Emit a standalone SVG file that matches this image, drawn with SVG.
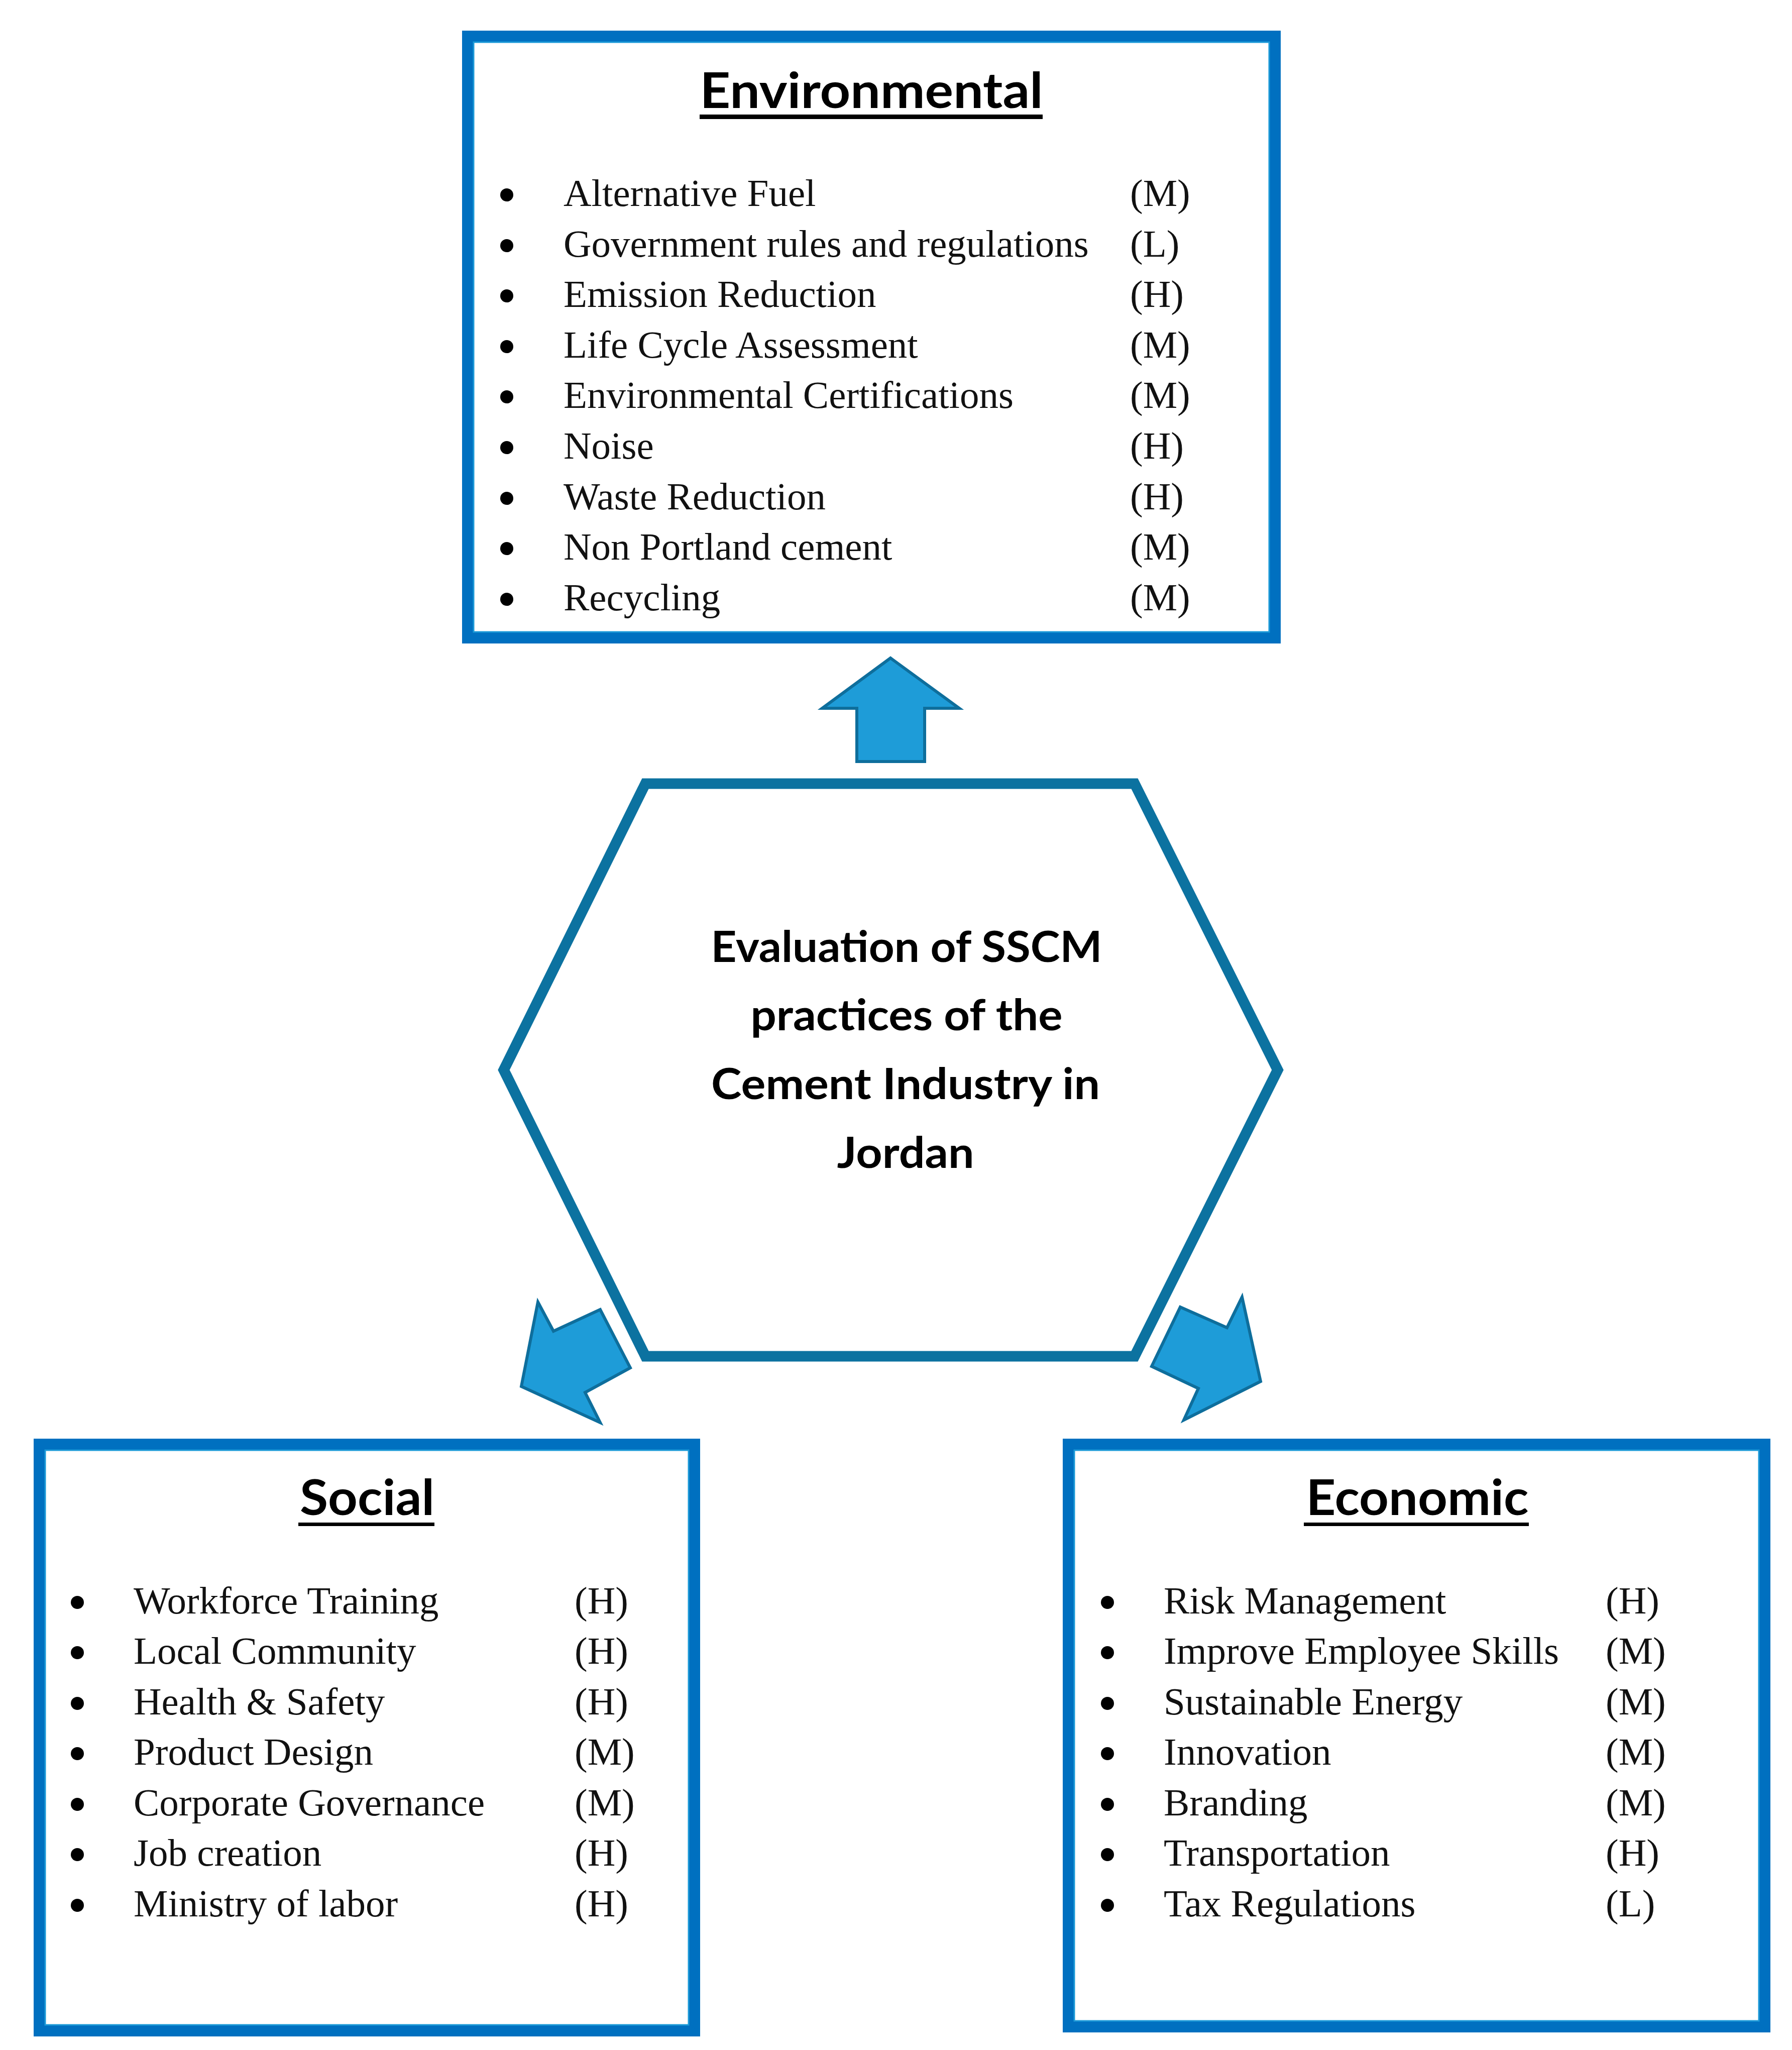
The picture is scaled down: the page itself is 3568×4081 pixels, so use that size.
<svg xmlns="http://www.w3.org/2000/svg" width="3568" height="4081" viewBox="0 0 3568 4081">
<style>
.box{fill:none;stroke:#0070C0;stroke-width:22}
.boxin{fill:none;stroke:#1C9AD8;stroke-width:3}
.hex{fill:#fff;stroke:#0C72A0;stroke-width:21;stroke-linejoin:miter}
.arrow{fill:#1E9CD8;stroke:#0E6E9C;stroke-width:6;stroke-linejoin:miter}
.title{font-family:Lato,"Open Sans","Liberation Sans",sans-serif;font-weight:bold;font-size:98px;fill:#000;text-anchor:middle}
.hub{font-family:Lato,"Open Sans","Liberation Sans",sans-serif;font-weight:bold;font-size:87px;fill:#000;text-anchor:middle}
.item{font-family:"Liberation Serif","Times New Roman",serif;font-size:77px;fill:#111}
.bul{fill:#000}
.ul{fill:#000}
</style>
<rect width="3568" height="4081" fill="#fff"/>

<g id="connectors">
  <polygon class="arrow" points="1773,1310 1910,1410 1841,1410 1841,1516 1706,1516 1706,1410 1637,1410"/>
  <polygon class="arrow" points="1071,2592 1102,2650 1195,2607 1255,2723 1165,2772 1195,2832 1038,2760"/>
  <polygon class="arrow" points="2350,2602 2443,2643 2473,2582 2510,2750 2357,2827 2386,2764 2293,2720"/>
</g>

<g id="hub">
  <polygon class="hex" points="1285,1560 2259,1560 2544,2130 2259,2700 1285,2700 1003,2130"/>
  <text class="hub" x="1805" y="1915" textLength="779" lengthAdjust="spacingAndGlyphs">Evaluation of SSCM</text>
  <text class="hub" x="1805" y="2051" textLength="621" lengthAdjust="spacingAndGlyphs">practices of the</text>
  <text class="hub" x="1803" y="2188" textLength="774" lengthAdjust="spacingAndGlyphs">Cement Industry in</text>
  <text class="hub" x="1803" y="2325" textLength="273" lengthAdjust="spacingAndGlyphs">Jordan</text>
</g>

<g id="environmental">
  <rect class="box" x="931" y="72" width="1608" height="1198"/>
  <rect class="boxin" x="943" y="84" width="1584" height="1174"/>
  <text class="title" x="1735" y="215" textLength="683" lengthAdjust="spacingAndGlyphs">Environmental</text>
  <rect class="ul" x="1393" y="228" width="683" height="9"/>
  <g class="bul">
    <circle cx="1009" cy="388" r="13"/>
    <circle cx="1009" cy="489" r="13"/>
    <circle cx="1009" cy="589" r="13"/>
    <circle cx="1009" cy="690" r="13"/>
    <circle cx="1009" cy="790" r="13"/>
    <circle cx="1009" cy="891" r="13"/>
    <circle cx="1009" cy="992" r="13"/>
    <circle cx="1009" cy="1092" r="13"/>
    <circle cx="1009" cy="1193" r="13"/>
  </g>
  <g class="item">
    <text x="1122" y="410">Alternative Fuel</text>
    <text x="1122" y="511">Government rules and regulations</text>
    <text x="1122" y="611">Emission Reduction</text>
    <text x="1122" y="712">Life Cycle Assessment</text>
    <text x="1122" y="812">Environmental Certifications</text>
    <text x="1122" y="913">Noise</text>
    <text x="1122" y="1014">Waste Reduction</text>
    <text x="1122" y="1114">Non Portland cement</text>
    <text x="1122" y="1215">Recycling</text>
    <text x="2250" y="410">(M)</text>
    <text x="2250" y="511">(L)</text>
    <text x="2250" y="611">(H)</text>
    <text x="2250" y="712">(M)</text>
    <text x="2250" y="812">(M)</text>
    <text x="2250" y="913">(H)</text>
    <text x="2250" y="1014">(H)</text>
    <text x="2250" y="1114">(M)</text>
    <text x="2250" y="1215">(M)</text>
  </g>
</g>

<g id="social">
  <rect class="box" x="78" y="2875" width="1305" height="1168"/>
  <rect class="boxin" x="90" y="2887" width="1281" height="1144"/>
  <text class="title" x="731" y="3016" textLength="268" lengthAdjust="spacingAndGlyphs">Social</text>
  <rect class="ul" x="594" y="3031" width="271" height="7"/>
  <g class="bul">
    <circle cx="154" cy="3190" r="13"/>
    <circle cx="154" cy="3290" r="13"/>
    <circle cx="154" cy="3391" r="13"/>
    <circle cx="154" cy="3491" r="13"/>
    <circle cx="154" cy="3592" r="13"/>
    <circle cx="154" cy="3692" r="13"/>
    <circle cx="154" cy="3793" r="13"/>
  </g>
  <g class="item">
    <text x="266" y="3212">Workforce Training</text>
    <text x="266" y="3312">Local Community</text>
    <text x="266" y="3413">Health &amp; Safety</text>
    <text x="266" y="3513">Product Design</text>
    <text x="266" y="3614">Corporate Governance</text>
    <text x="266" y="3714">Job creation</text>
    <text x="266" y="3815">Ministry of labor</text>
    <text x="1144" y="3212">(H)</text>
    <text x="1144" y="3312">(H)</text>
    <text x="1144" y="3413">(H)</text>
    <text x="1144" y="3513">(M)</text>
    <text x="1144" y="3614">(M)</text>
    <text x="1144" y="3714">(H)</text>
    <text x="1144" y="3815">(H)</text>
  </g>
</g>

<g id="economic">
  <rect class="box" x="2127" y="2875" width="1387" height="1160"/>
  <rect class="boxin" x="2139" y="2887" width="1363" height="1136"/>
  <text class="title" x="2822" y="3016" textLength="443" lengthAdjust="spacingAndGlyphs">Economic</text>
  <rect class="ul" x="2596" y="3031" width="448" height="7"/>
  <g class="bul">
    <circle cx="2205" cy="3190" r="13"/>
    <circle cx="2205" cy="3290" r="13"/>
    <circle cx="2205" cy="3391" r="13"/>
    <circle cx="2205" cy="3491" r="13"/>
    <circle cx="2205" cy="3592" r="13"/>
    <circle cx="2205" cy="3692" r="13"/>
    <circle cx="2205" cy="3793" r="13"/>
  </g>
  <g class="item">
    <text x="2317" y="3212">Risk Management</text>
    <text x="2317" y="3312">Improve Employee Skills</text>
    <text x="2317" y="3413">Sustainable Energy</text>
    <text x="2317" y="3513">Innovation</text>
    <text x="2317" y="3614">Branding</text>
    <text x="2317" y="3714">Transportation</text>
    <text x="2317" y="3815">Tax Regulations</text>
    <text x="3197" y="3212">(H)</text>
    <text x="3197" y="3312">(M)</text>
    <text x="3197" y="3413">(M)</text>
    <text x="3197" y="3513">(M)</text>
    <text x="3197" y="3614">(M)</text>
    <text x="3197" y="3714">(H)</text>
    <text x="3197" y="3815">(L)</text>
  </g>
</g>
</svg>
